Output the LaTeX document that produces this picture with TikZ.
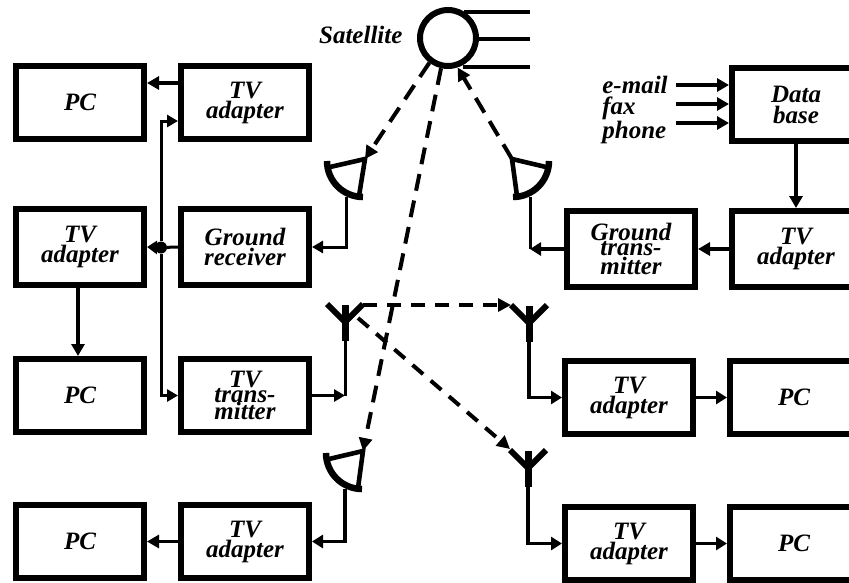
\documentclass[tikz,border=0pt]{standalone}
\usepackage{fontspec}
\setmainfont{Liberation Serif}
\usetikzlibrary{positioning, arrows.meta, calc}

\begin{document}
\begin{tikzpicture}[
  x=1pt, y=-1pt,
  font=\fontsize{25}{20}\selectfont\bfseries\itshape,
  blk/.style={draw=black, line width=6pt, align=center, inner sep=0pt,
              minimum width=128pt, minimum height=73pt},
  tall/.style={minimum height=76pt},
  wire/.style={draw=black, line width=3pt},
  warr/.style={wire, -{Triangle[length=11pt,width=12pt]}},
  marr/.style={draw=black, line width=3.2pt, -{Triangle[length=11pt,width=13pt]}},
  barr/.style={draw=black, line width=3.8pt, -{Triangle[length=12pt,width=13pt]}},
  darr/.style={draw=black, line width=4pt, dash pattern=on 17pt off 10pt,
               -{Triangle[length=13pt,width=13pt]}},
  tarr/.style={darr, dash pattern=on 14pt off 10pt},
  ray/.style={draw=black, line width=3.2pt},
  rim/.style={draw=black, line width=6.5pt},
  strut/.style={draw=black, line width=4.6pt},
  prong/.style={draw=black, line width=6pt},
  stem/.style={draw=black, line width=7pt}
]
\newcommand{\dishant}[5]{
  \begin{scope}[shift={(#2,#3)}, xscale=#4]
    \coordinate (#1) at (0,0);
    \coordinate (#1t) at (#5,-38);
    \draw[rim] (-19,-36) arc[start angle=180, end angle=90, radius=36];
    \draw[strut] (-16,-30) -- (#5,-38) -- (13,-1);
  \end{scope}}
\newcommand{\yant}[3]{
  \coordinate (#1) at (#2,#3);
  \coordinate (#1t) at (#2,#3+19);
  \draw[prong] (#2-18,#3-18) -- (#2,#3) -- (#2+18,#3-18);
  \draw[stem] (#2,#3-17) -- (#2,#3+19);}
\clip (0,0) rectangle (849,582);
\useasboundingbox (0,0) rectangle (849,582);

\node[blk] (pca) at (80,102.5) {PC};
\node[blk, right=31pt of pca] (tva) {TV\\adapter};
\node[blk, tall, below=64pt of pca] (tvb) {TV\\adapter};
\node[blk, tall, right=31pt of tvb] (grx) {Ground\\receiver};
\node[blk, below=68pt of tvb] (pcb) {PC};
\node[blk, right=31pt of pcb] (ttx) {TV\\[-5pt]trans-\\[-3pt]mitter};
\node[blk, below=67pt of pcb] (pcc) {PC};
\node[blk, right=31pt of pcc] (tvc) {TV\\adapter};

\node[blk] (dbs) at (796,104.5) {Data\\[1pt]base};
\node[blk, tall, below=64pt of dbs] (tvd) {TV\\adapter};
\node[blk, tall, left=31pt of tvd] (gtx) {Ground\\[-5pt]trans-\\[-1pt]mitter};
\node[blk, below=68pt of gtx, xshift=-2pt] (tve) {TV\\adapter};
\node[blk, right=31pt of tve] (pcd) {PC};
\node[blk, below=67pt of tve] (tvf) {TV\\adapter};
\node[blk, right=31pt of tvf] (pce) {PC};

\node[circle, draw=black, line width=6pt, minimum size=56pt, inner sep=0pt] (sat) at (448,38) {};
\node[left=11pt of sat, yshift=3pt] (satl) {Satellite};
\foreach \n/\y/\a in {ra/12/58, rb/39/0, rc/67/-62}{
  \coordinate (\n) at (530,\y);
  \draw[ray] (\n) -- (\n -| sat.\a);}

\node[align=left] (src) at (635,110) {e-mail\\[1pt]fax\\[1pt]phone};
\foreach \n/\y in {ia/85, ib/104, ic/123}{
  \coordinate (\n) at (676,\y);
  \draw[barr] (\n) -- (\n -| dbs.west);}

\dishant{dsa}{346}{197}{1}{19}
\dishant{dsb}{530}{197}{-1}{18}
\dishant{dsc}{345}{489}{1}{18}
\yant{ana}{345}{322}
\yant{anb}{529}{323}
\yant{anc}{528}{468}

\draw[barr] (tva.west |- 0,83) -- (pca.east |- 0,83);
\node[circle, fill=black, inner sep=0pt, minimum size=12pt] (jn) at (161,247.5) {};
\draw[barr, -{Triangle[length=10pt,width=13pt]}] (jn) -- (tvb.east);
\draw[wire] (grx.west) -- (jn);
\draw[warr] (jn) |- ($(tva.west)+(0,18.5)$);
\draw[warr] (jn) |- (ttx.west);
\draw[barr] (tvb.south -| 78,0) -- (pcb.north -| 78,0);
\draw[barr] (tvc.west) -- (pcc.east);

\draw[warr] (dsa) |- (grx.east);
\draw[warr] (ttx.east) -- (ttx.east -| ana);
\draw[wire] (ana) -- (ttx.east -| ana);
\draw[marr] (dsc) |- (tvc.east);

\draw[barr] (dbs) -- (tvd);
\draw[barr] (tvd.west) -- (gtx.east);
\draw[wire] (dsb) -- (gtx.west -| dsb);
\draw[marr] (gtx.west) -- (gtx.west -| dsb);
\draw[marr] (anb) |- (tve.west);
\draw[marr] (anc) |- (tvf.west);
\draw[marr] (tve.east) -- (pcd.west);
\draw[marr] (tvf.east) -- (pce.west);

\draw[darr] (sat.-127) -- (dsat);
\draw[darr] (sat.-103) -- (dsct);
\draw[darr] (dsbt) -- (sat.-72);
\draw[tarr] ($(ana)+(18,-17)$) -- ($(anb)+(-18,-18)$);
\draw[tarr] ($(ana)+(13,-4)$) -- ($(anc)+(-18,-19)$);
\end{tikzpicture}
\end{document}
